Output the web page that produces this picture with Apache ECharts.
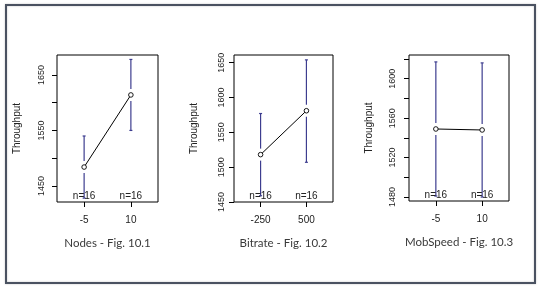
<!DOCTYPE html>
<html>
<head>
<meta charset="utf-8">
<script src="https://cdn.jsdelivr.net/npm/echarts@6/dist/echarts.min.js"></script>
<style>
  html, body { margin: 0; padding: 0; background: #fff; }
  #chart { width: 542px; height: 289px; }
</style>
</head>
<body>
<div id="chart"></div>
<script>
// plot of means, one panel per factor
const nodesLevels = ['-5', '10'];
const nodesMeans = [1484, 1614];
const nodesLower = [1428, 1550];
const nodesUpper = [1540, 1678];
const nodesCounts = [16, 16];
const nodesTicks = [1450, 1500, 1550, 1600, 1650];
const nodesTickLabels = [1450, 1550, 1650];

const bitrateLevels = ['-250', '500'];
const bitrateMeans = [1518, 1581];
const bitrateLower = [1459, 1507];
const bitrateUpper = [1577, 1654];
const bitrateCounts = [16, 16];
const bitrateTicks = [1450, 1500, 1550, 1600, 1650];
const bitrateTickLabels = [1450, 1500, 1550, 1600, 1650];

const mobLevels = ['-5', '10'];
const mobMeans = [1549, 1548];
const mobLower = [1481, 1480];
const mobUpper = [1617, 1616];
const mobCounts = [16, 16];
const mobTicks = [1480, 1500, 1520, 1540, 1560, 1580, 1600, 1620];
const mobTickLabels = [1480, 1520, 1560, 1600];

const panels = [
    {levels: nodesLevels, means: nodesMeans, lower: nodesLower, upper: nodesUpper, counts: nodesCounts,
     ticks: nodesTicks, tickLabels: nodesTickLabels, min: 1421, max: 1686, title: 'Nodes - Fig. 10.1',
     grid: {left: 57, top: 55, width: 101, height: 147}, labelMargin: 11},
    {levels: bitrateLevels, means: bitrateMeans, lower: bitrateLower, upper: bitrateUpper, counts: bitrateCounts,
     ticks: bitrateTicks, tickLabels: bitrateTickLabels, min: 1450, max: 1661, title: 'Bitrate - Fig. 10.2',
     grid: {left: 234, top: 55, width: 99, height: 147}, labelMargin: 8},
    {levels: mobLevels, means: mobMeans, lower: mobLower, upper: mobUpper, counts: mobCounts,
     ticks: mobTicks, tickLabels: mobTickLabels, min: 1476, max: 1624, title: 'MobSpeed - Fig. 10.3',
     grid: {left: 409, top: 55, width: 100, height: 146}, labelMargin: 12}
];

const barColor = '#3d3d8f';
const textColor = '#222';
const rFont = '"Liberation Sans", Arial, sans-serif';

// vertical error bar with a gap round the mean, the mean circle and the n= label
function renderBar(params, api) {
    var x = api.value(0);
    var lo = api.coord([x, api.value(1)]);
    var mid = api.coord([x, api.value(2)]);
    var hi = api.coord([x, api.value(3)]);
    var bottom = api.coord([x, api.value(5)]);
    var gap = 6;
    var cap = 1.5;
    var style = {stroke: barColor, lineWidth: 1.2};
    return {
        type: 'group',
        children: [
            {type: 'line', shape: {x1: hi[0], y1: hi[1], x2: hi[0], y2: mid[1] - gap}, style: style},
            {type: 'line', shape: {x1: lo[0], y1: mid[1] + gap, x2: lo[0], y2: lo[1]}, style: style},
            {type: 'line', shape: {x1: hi[0] - cap, y1: hi[1], x2: hi[0] + cap, y2: hi[1]}, style: style},
            {type: 'line', shape: {x1: lo[0] - cap, y1: lo[1], x2: lo[0] + cap, y2: lo[1]}, style: style},
            {type: 'circle', shape: {cx: mid[0], cy: mid[1], r: 2.3},
             style: {fill: '#fff', stroke: '#000', lineWidth: 0.9}},
            {type: 'text', x: bottom[0], y: bottom[1] - 0.5,
             style: {text: 'n=' + api.value(4), fill: textColor, font: '10px ' + rFont,
                     align: 'center', verticalAlign: 'bottom'}}
        ]
    };
}

var grids = [], xAxes = [], yAxes = [], series = [];
panels.forEach(function (p, i) {
    grids.push(Object.assign({show: true, borderColor: '#000', borderWidth: 1, backgroundColor: '#fff'}, p.grid));
    xAxes.push({
        type: 'value', gridIndex: i, min: 0.42, max: 2.58,
        name: p.title, nameLocation: 'middle', nameGap: 35,
        nameTextStyle: {color: '#3a3a3a', fontFamily: 'Lato, "Open Sans", sans-serif', fontSize: 11.5},
        axisLine: {show: false}, splitLine: {show: false},
        axisTick: {show: true, length: 5, customValues: [1, 2], lineStyle: {color: '#000'}},
        axisLabel: {customValues: [1, 2], margin: 13, color: textColor, fontFamily: rFont, fontSize: 10,
                    formatter: function (v) { return p.levels[Math.round(v) - 1]; }}
    });
    yAxes.push({
        type: 'value', gridIndex: i, min: p.min, max: p.max,
        name: 'Throughput', nameLocation: 'middle', nameGap: 35, nameRotate: 90,
        nameTextStyle: {color: textColor, fontFamily: rFont, fontSize: 10},
        axisLine: {show: false}, splitLine: {show: false},
        axisTick: {show: true, length: 5, customValues: p.ticks, lineStyle: {color: '#000'}},
        axisLabel: {customValues: p.tickLabels, rotate: 90, margin: p.labelMargin, color: textColor,
                    fontFamily: rFont, fontSize: 9,
                    formatter: function (v) { return String(v); }}
    });
    series.push({
        type: 'line', xAxisIndex: i, yAxisIndex: i, silent: true,
        symbol: 'none',
        lineStyle: {color: '#000', width: 1},
        data: p.means.map(function (m, k) { return [k + 1, m]; }),
        z: 5
    });
    series.push({
        type: 'custom', xAxisIndex: i, yAxisIndex: i, renderItem: renderBar, silent: true,
        data: p.means.map(function (m, k) {
            return [k + 1, p.lower[k], m, p.upper[k], p.counts[k], p.min];
        }),
        z: 6
    });
});

var chart = echarts.init(document.getElementById('chart'));
chart.setOption({
    animation: false,
    backgroundColor: '#fff',
    grid: grids,
    xAxis: xAxes,
    yAxis: yAxes,
    series: series,
    graphic: [{
        type: 'rect', shape: {x: 6, y: 5, width: 529, height: 278},
        style: {fill: 'none', stroke: '#4a5261', lineWidth: 2, shadowBlur: 2, shadowColor: 'rgba(0,0,0,0.25)'}
    }]
});
</script>
</body>
</html>
